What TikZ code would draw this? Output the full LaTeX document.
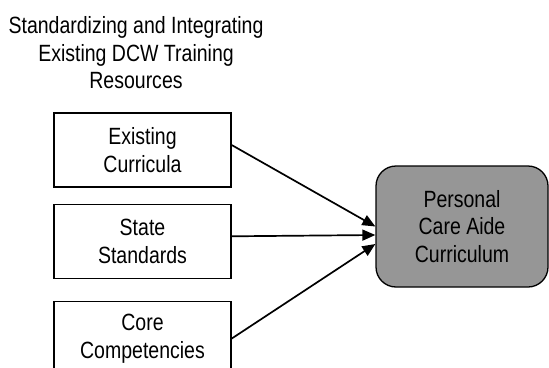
\documentclass[tikz,border=0pt]{standalone}
\usepackage{fontspec}
\setmainfont{Liberation Sans}[FakeStretch=0.83]
\usepackage{tikz}
\usetikzlibrary{arrows.meta,positioning}

\definecolor{aidegray}{RGB}{150,150,150}

\begin{document}
\begin{tikzpicture}[->,>={Triangle[length=13pt,width=11pt]},x=1pt,y=-1pt,
                    line width=1.7pt]
  \tikzstyle{every node}=[font=\fontsize{23.5}{27.5}\selectfont,align=center]
  \tikzstyle{source}=[draw,line width=1.3pt,minimum width=177pt,minimum height=74pt]
  \tikzstyle{target}=[draw,line width=1.3pt,rounded corners=20pt,fill=aidegray,
                      minimum width=172pt,minimum height=121pt]

  \useasboundingbox (0,0) rectangle (549,367);

  \node[inner sep=0pt,anchor=north] (title) at (136,16)
        {Standardizing and Integrating\\Existing DCW Training\\Resources};

  \node[source] (curr)  at (142.5,150)        {Existing\\Curricula};
  \node[source] (stand) [below=16pt of curr]  {State\\Standards};
  \node[source] (core)  [below=22pt of stand] {Core\\Competencies};
  \node[target] (pca)   at (462,226.5)        {Personal\\Care Aide\\Curriculum};

  \draw ([yshift=5pt]curr.east)   -- (pca.west);
  \draw ([yshift=5pt]stand.east)  -- ([yshift=-8.5pt]pca.west);
  \draw (core.east)               -- ([yshift=-17.5pt]pca.west);

\end{tikzpicture}
\end{document}
